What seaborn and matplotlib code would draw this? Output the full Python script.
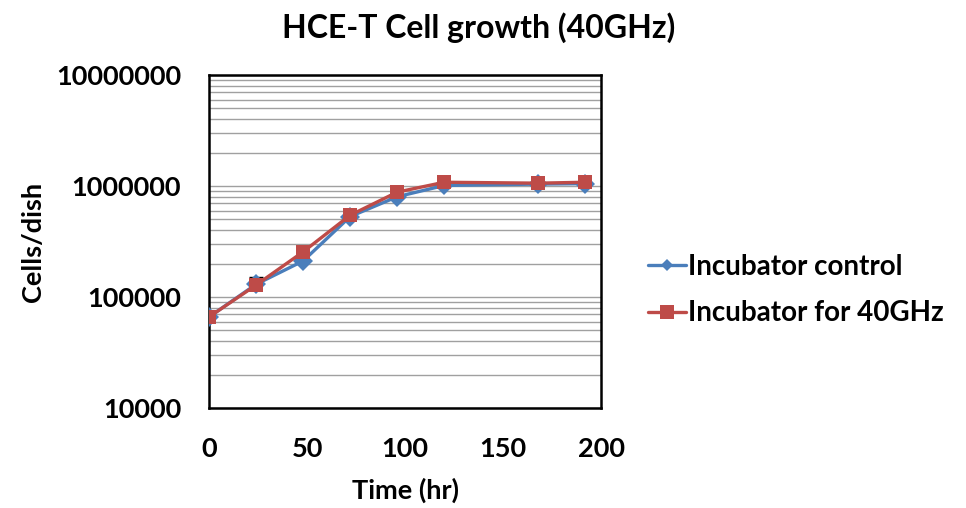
import numpy as np
import pandas as pd
import seaborn as sns
import matplotlib.pyplot as plt
from matplotlib.ticker import LogLocator, FixedLocator, NullFormatter

# Data
time_hr = [0, 24, 48, 72, 96, 120, 168, 192]
control = [66000, 130000, 211000, 530000, 800000, 1010000, 1040000, 1050000]
control_err = [0, 20000, 0, 0, 0, 0, 0, 0]
ghz40 = [66000, 128000, 255000, 545000, 880000, 1080000, 1060000, 1080000]

series_names = ['Incubator control', 'Incubator for 40GHz']
colors = ['#4a7ebb', '#be4b48']
y_ticks = [1e4, 1e5, 1e6, 1e7]
y_labels = ['10000', '100000', '1000000', '10000000']
x_ticks = [0, 50, 100, 150, 200]

df = pd.DataFrame({
    'Time (hr)': time_hr * 2,
    'Cells/dish': control + ghz40,
    'Series': [series_names[0]] * len(time_hr) + [series_names[1]] * len(time_hr),
})

sns.set_style("white")
plt.rcParams['font.family'] = ['Lato', 'DejaVu Sans']
plt.rcParams['font.weight'] = 'bold'
for key in ['text.color', 'axes.labelcolor', 'xtick.color', 'ytick.color']:
    plt.rcParams[key] = 'black'

fig = plt.figure(figsize=(9.66, 5.08), dpi=100)
ax = fig.add_axes([0.2164, 0.197, 0.4058, 0.6554])

ax.set_yscale('log')
ax.set_ylim(1e4, 1e7)
ax.set_xlim(0, 200)

# grid lines (major + minor on log scale)
ax.yaxis.set_major_locator(FixedLocator(y_ticks))
ax.yaxis.set_minor_locator(LogLocator(base=10, subs=np.arange(2, 10)))
ax.yaxis.set_minor_formatter(NullFormatter())
ax.grid(True, which='both', axis='y', color='#a0a0a0', linewidth=1.0)
ax.grid(False, axis='x')
ax.set_axisbelow(True)

ax.errorbar(time_hr, control, yerr=[np.zeros(len(control_err)), control_err],
            fmt='none', ecolor='black', elinewidth=1, capsize=5, zorder=2)

sns.lineplot(data=df, x='Time (hr)', y='Cells/dish', hue='Series',
             style='Series', markers=['D', 's'], dashes=False,
             palette=colors, linewidth=2.4, markersize=10,
             markeredgewidth=0, ax=ax, zorder=3)
# smaller diamonds for the control series
ax.lines[-2].set_markersize(6)

ax.set_xticks(x_ticks)
ax.set_xticklabels([str(t) for t in x_ticks], fontsize=19.5, fontweight='bold')
ax.set_yticks(y_ticks)
ax.set_yticklabels(y_labels, fontsize=19.5, fontweight='bold')
ax.tick_params(axis='both', which='both', length=0)
ax.tick_params(axis='y', pad=20)
ax.tick_params(axis='x', pad=21)

for s in ax.spines.values():
    s.set_color('black')
    s.set_linewidth(1.8)

ax.set_xlabel('Time (hr)', fontsize=19.5, fontweight='bold', labelpad=12)
ax.set_ylabel('Cells/dish', fontsize=19.5, fontweight='bold', labelpad=8)
fig.text(0.495, 0.945, 'HCE-T Cell growth (40GHz)', ha='center', va='center',
         fontsize=23, fontweight='bold')

handles, labels = ax.get_legend_handles_labels()
ax.legend(handles, labels, loc='center left', bbox_to_anchor=(1.12, 0.354),
          frameon=False, handlelength=1.35, handletextpad=0.1,
          borderpad=0, borderaxespad=0, labelspacing=0.75,
          prop={'weight': 'bold', 'size': 20})

plt.savefig('out.png', dpi=100)
